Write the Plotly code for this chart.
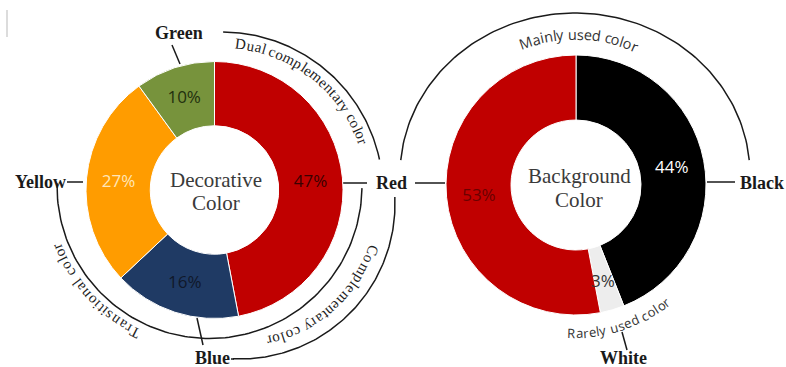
import numpy as np
import plotly.graph_objects as go

# ---------------- data ----------------
deco_labels = ["Red", "Blue", "Yellow", "Green"]
deco_values = [47, 16, 27, 10]
deco_colors = ["#C00000", "#1F3A64", "#FF9C00", "#77933C"]
deco_text_colors = ["#3a0000", "#10182a", "#FFE6B8", "#22300e"]

bg_labels = ["Black", "White", "Red"]
bg_values = [44, 3, 53]
bg_colors = ["#000000", "#EDEDED", "#C00000"]
bg_text_colors = ["#FFFFFF", "#333333", "#6a0000"]

W, H = 786, 367

# donut geometry (pixels)
L_C, L_R = (214.5, 190.0), 128.5
R_C, R_R = (576.0, 185.0), 130.0
HOLE = 0.5


def dom(c, r):
    return dict(x=[(c[0] - r) / W, (c[0] + r) / W],
                y=[1 - (c[1] + r) / H, 1 - (c[1] - r) / H])


fig = go.Figure()

# overlay pixel axis for decorations
fig.update_layout(
    xaxis=dict(range=[0, W], visible=False, domain=[0, 1], fixedrange=True),
    yaxis=dict(range=[H, 0], visible=False, domain=[0, 1], fixedrange=True),
)

LINE = dict(color="#1a1a1a", width=1.5)


def add_line(xs, ys):
    fig.add_trace(go.Scatter(x=xs, y=ys, mode="lines", line=LINE,
                             hoverinfo="skip", showlegend=False))


def arc(cx, cy, r, a0, a1, n=120, ry=None):
    t = np.radians(np.linspace(a0, a1, n))
    ry = r if ry is None else ry
    add_line(cx + r * np.cos(t), cy + ry * np.sin(t))


# arcs
arc(222, 193, 161, -89.6, -12.0)           # Dual complementary
arc(209.5, 186, 152.5, 181.0, 0.8)         # Transitional + inner complementary
arc(240, 204, 155, -2.6, 92.6)             # outer complementary
add_line([231, 234], [359, 359])
arc(575, 175, 175, 185.3, 354.7, ry=162)   # Mainly used

# connectors
add_line([172, 180], [45, 64])    # Green
add_line([67, 83], [182, 182])    # Yellow
add_line([197, 203], [318, 345])  # Blue
add_line([343, 367], [183, 183])  # Red left
add_line([415, 445], [183, 183])  # Red right
add_line([707, 735], [182, 182])  # Black
add_line([622, 627], [332, 350])  # White
# faint artifact top-left
fig.add_shape(type="line", x0=7, x1=7, y0=10, y1=37, xref="x", yref="y",
              line=dict(color="#d0d0d0", width=1.5))

# pies
fig.add_trace(go.Pie(
    labels=deco_labels, values=deco_values, sort=False, direction="clockwise",
    rotation=0, hole=HOLE, domain=dom(L_C, L_R),
    marker=dict(colors=deco_colors, line=dict(color="white", width=1)),
    texttemplate="%{value}%", textposition="inside",
    insidetextorientation="horizontal",
    textfont=dict(family="Open Sans", size=17, color=deco_text_colors),
    hoverinfo="label+percent", showlegend=False))

bg_tt = ["%{value}%" if v >= 5 else "" for v in bg_values]
fig.add_trace(go.Pie(
    labels=bg_labels, values=bg_values, sort=False, direction="clockwise",
    rotation=0, hole=HOLE, domain=dom(R_C, R_R),
    marker=dict(colors=bg_colors, line=dict(color="white", width=1)),
    texttemplate=bg_tt, textposition="inside",
    insidetextorientation="horizontal",
    textfont=dict(family="Open Sans", size=17, color=bg_text_colors),
    hoverinfo="label+percent", showlegend=False))

ann = []

# small-slice label computed from pie geometry
tot = sum(bg_values)
cum = 0
for lab, v, col in zip(bg_labels, bg_values, bg_text_colors):
    if v < 5:
        mid = np.radians((cum + v / 2) / tot * 360)
        rr = R_R * (1 + HOLE) / 2
        ann.append(dict(x=R_C[0] + rr * np.sin(mid), y=R_C[1] - rr * np.cos(mid) + 2,
                        text=f"{v}%", showarrow=False,
                        font=dict(family="Open Sans", size=17, color=col)))
    cum += v

SERIF = "Liberation Serif, Times New Roman, serif"
SANS = "Open Sans, sans-serif"

# center texts
for txt, x, y in [("Decorative", 216, 180), ("Color", 216, 203),
                  ("Background", 579, 176), ("Color", 579, 200)]:
    ann.append(dict(x=x, y=y, text=txt, showarrow=False,
                    font=dict(family=SERIF, size=21, color="#3a3a3a")))

# category labels
for txt, x, y in [("Green", 179, 33), ("Yellow", 40, 182), ("Blue", 212, 358),
                  ("Red", 391, 183), ("Black", 762, 183), ("White", 623, 358)]:
    ann.append(dict(x=x, y=y, text=f"<b>{txt}</b>", showarrow=False,
                    font=dict(family=SERIF, size=18, color="#1a1a1a")))

# curved texts
SW = {' ': 250, 'a': 444, 'b': 500, 'c': 444, 'd': 500, 'e': 444, 'f': 333, 'g': 500,
      'h': 500, 'i': 278, 'k': 500, 'l': 278, 'm': 778, 'n': 500, 'o': 500, 'p': 500,
      'r': 333, 's': 389, 't': 278, 'u': 500, 'v': 500, 'w': 722, 'y': 500,
      'C': 667, 'D': 722, 'T': 611}
NW = {' ': 260, 'a': 556, 'c': 480, 'd': 613, 'e': 561, 'l': 258, 'o': 600, 'r': 408,
      's': 479, 'u': 613, 'y': 500, 'n': 613, 'i': 258, 'M': 907, 'R': 618}


def curved(text, cx, cy, r, a0, a1, widths, family, size, color, cw=True):
    ws = [widths.get(ch, 500) for ch in text]
    tot_w = sum(ws)
    acc = 0
    for ch, w in zip(text, ws):
        c = acc + w / 2
        acc += w
        if ch == ' ':
            continue
        a = a0 + (a1 - a0) * c / tot_w
        ar = np.radians(a)
        rot = a + 90 if cw else a - 90
        ann.append(dict(x=cx + r * np.cos(ar), y=cy + r * np.sin(ar), text=ch,
                        textangle=rot, showarrow=False, xanchor="center",
                        yanchor="middle",
                        font=dict(family=family, size=size, color=color)))


curved("Dual complementary color", 222, 193, 150, -85, -19, SW, SERIF, 15, "#1e1e1e")
curved("Complementary color", 240, 204, 140, 17, 79, SW, SERIF, 15, "#1e1e1e")
curved("Transitional color", 209.5, 186, 164, 115, 159.5, SW, SERIF, 15, "#1e1e1e")
curved("Mainly used color", 575, 185, 151, -111.5, -65.6, NW, SANS, 14.5, "#333")
curved("Rarely used color", 575, 185, 148, 93, 51, NW, SANS, 13, "#333", cw=False)

for a in ann:
    a.setdefault("xref", "x")
    a.setdefault("yref", "y")

fig.update_layout(
    annotations=ann, width=W, height=H, margin=dict(l=0, r=0, t=0, b=0),
    paper_bgcolor="white", plot_bgcolor="white", showlegend=False,
)

fig.write_html("out.html")
